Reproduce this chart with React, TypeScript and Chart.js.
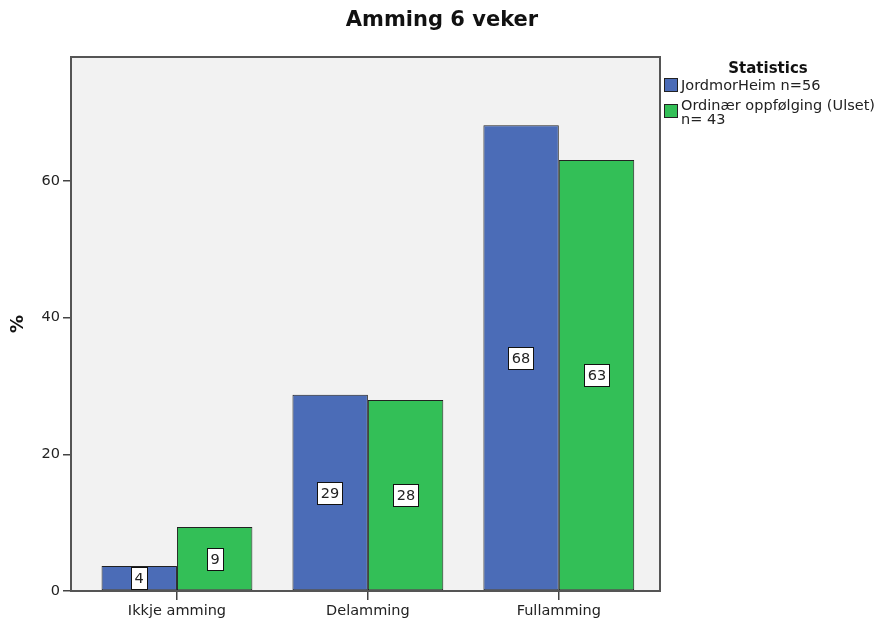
import React, { useEffect, useRef } from "react";
import { Chart, registerables } from "chart.js";

Chart.register(...registerables);

const chartTitle = "Amming 6 veker";
const categories = ["Ikkje amming", "Delamming", "Fullamming"];
const seriesLabels = ["JordmorHeim n=56", "Ordinær oppfølging (Ulset)\nn= 43"];
const jordmorHeim = [3.65, 28.7, 68.1];
const ordinaer = [9.35, 27.95, 63.05];
const seriesColors = ["#4b6cb7", "#33bf57"];
const yTicks = [0, 20, 40, 60];
const legendTitle = "Statistics";
const yTitle = "%";

const FONT = "'DejaVu Sans', Verdana, sans-serif";

const decorPlugin = {
  id: "decor",
  beforeDatasetsDraw(chart: any) {
    const { ctx, chartArea: a } = chart;
    ctx.save();
    ctx.fillStyle = "#f2f2f2";
    ctx.fillRect(a.left, a.top, a.right - a.left, a.bottom - a.top);
    ctx.restore();
  },
  afterDatasetsDraw(chart: any) {
    const { ctx, chartArea: a } = chart;
    ctx.save();
    ctx.font = `14.5px ${FONT}`;
    ctx.textAlign = "center";
    ctx.textBaseline = "middle";
    chart.data.datasets.forEach((ds: any, di: number) => {
      const meta = chart.getDatasetMeta(di);
      meta.data.forEach((bar: any, i: number) => {
        const v = ds.data[i].y;
        const txt = String(Math.round(v));
        const cx = Math.round(bar.x);
        const cy = Math.round((bar.y + bar.base) / 2);
        const w = Math.round(ctx.measureText(txt).width) + 8;
        const h = 23;
        const x0 = Math.round(cx - w / 2);
        const y0 = Math.round(cy - h / 2);
        ctx.fillStyle = "#ffffff";
        ctx.fillRect(x0, y0, w, h);
        ctx.strokeStyle = "#111";
        ctx.lineWidth = 1;
        ctx.strokeRect(x0 + 0.5, y0 + 0.5, w - 1, h - 1);
        ctx.fillStyle = "#222";
        ctx.fillText(txt, cx, cy + 1);
      });
    });
    ctx.restore();
    ctx.save();
    ctx.strokeStyle = "#555";
    ctx.lineWidth = 2;
    ctx.strokeRect(a.left, a.top, a.right - a.left, a.bottom - a.top);
    ctx.restore();
  },
  afterDraw(chart: any) {
    const { ctx } = chart;
    ctx.save();
    ctx.fillStyle = "#111";
    ctx.font = `bold 21px ${FONT}`;
    ctx.textAlign = "center";
    ctx.textBaseline = "middle";
    ctx.fillText(chartTitle, 442, 21);
    ctx.font = `bold 15px ${FONT}`;
    ctx.fillText(legendTitle, 768, 69);
    ctx.textAlign = "left";
    ctx.font = `14.5px ${FONT}`;
    const swatchTops = [78, 104];
    const textStarts = [86, 106];
    seriesLabels.forEach((lab, i) => {
      ctx.fillStyle = seriesColors[i];
      ctx.fillRect(664, swatchTops[i], 14, 14);
      ctx.strokeStyle = "#222";
      ctx.lineWidth = 1;
      ctx.strokeRect(664.5, swatchTops[i] + 0.5, 13, 13);
      ctx.fillStyle = "#222";
      lab.split("\n").forEach((line, li) => {
        ctx.fillText(line, 681, textStarts[i] + li * 14.5);
      });
    });
    ctx.restore();
  },
};

export default function App() {
  const ref = useRef<HTMLCanvasElement | null>(null);
  useEffect(() => {
    if (!ref.current) return;
    const mk = (vals: number[]) => vals.map((v, i) => ({ x: i, y: v }));
    const chart = new Chart(ref.current, {
      type: "bar",
      data: {
        datasets: [
          {
            label: seriesLabels[0],
            data: mk(jordmorHeim),
            backgroundColor: seriesColors[0],
            borderColor: "#222",
            borderWidth: 1,
            borderSkipped: false,
          },
          {
            label: seriesLabels[1],
            data: mk(ordinaer),
            backgroundColor: seriesColors[1],
            borderColor: "#222",
            borderWidth: 1,
            borderSkipped: false,
          },
        ],
      } as any,
      options: {
        responsive: false,
        animation: false,
        events: [],
        devicePixelRatio: 1,
        layout: { padding: { top: 57, right: 220, left: 0, bottom: 0 } },
        plugins: {
          legend: { display: false },
          title: { display: false },
          tooltip: { enabled: false },
        },
        datasets: { bar: { categoryPercentage: 0.79, barPercentage: 1 } },
        scales: {
          x: {
            type: "linear",
            min: -0.555,
            max: 2.53,
            offset: false,
            afterBuildTicks: (s: any) => {
              s.ticks = categories.map((_, i) => ({ value: i }));
            },
            afterFit: (s: any) => {
              s.height = 28;
            },
            grid: {
              display: true,
              offset: false,
              drawOnChartArea: false,
              drawTicks: true,
              tickLength: 9,
              color: "#444",
              lineWidth: 1.5,
            },
            border: { display: false },
            ticks: {
              autoSkip: false,
              maxRotation: 0,
              padding: 3,
              color: "#222",
              font: { family: FONT, size: 14.5 },
              callback: (v: any) => categories[Math.round(Number(v))] ?? "",
            },
          },
          y: {
            type: "linear",
            min: 0,
            max: 78.1,
            afterBuildTicks: (s: any) => {
              s.ticks = yTicks.map((v) => ({ value: v }));
            },
            afterFit: (s: any) => {
              s.width = 71;
            },
            grid: {
              display: true,
              drawOnChartArea: false,
              drawTicks: true,
              tickLength: 8,
              color: "#444",
              lineWidth: 1.5,
            },
            border: { display: false },
            ticks: {
              padding: 3,
              color: "#222",
              font: { family: FONT, size: 14.5 },
            },
            title: {
              display: true,
              text: yTitle,
              color: "#111",
              font: { family: FONT, size: 18, weight: "bold" },
              padding: { top: 8, bottom: 0 },
            },
          },
        },
      } as any,
      plugins: [decorPlugin],
    });
    return () => chart.destroy();
  }, []);
  return (
    <div style={{ position: "absolute", left: 0, top: 0, width: 880, height: 619, background: "#fff" }}>
      <canvas ref={ref} width={880} height={619} style={{ display: "block" }} />
    </div>
  );
}
